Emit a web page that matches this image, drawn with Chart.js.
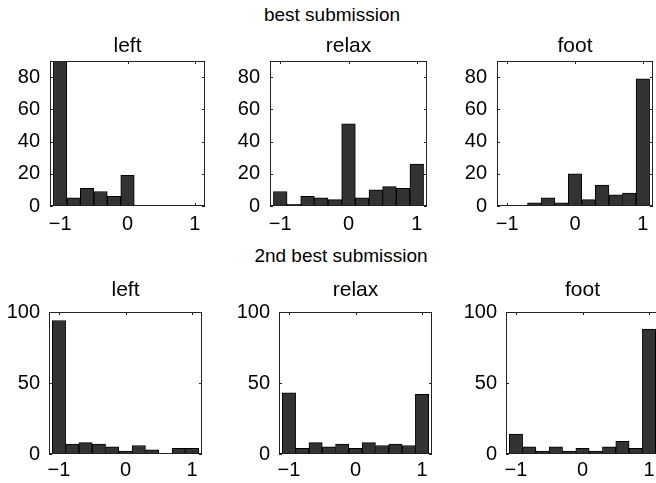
<!DOCTYPE html>
<html>
<head>
<meta charset="utf-8">
<script src="https://cdn.jsdelivr.net/npm/chart.js@4.4.1/dist/chart.umd.min.js"></script>
<style>
html, body { margin: 0; padding: 0; background: #fff; overflow: hidden; width: 656px; height: 483px; position: relative; }
.panel { position: absolute; }
.heading { position: absolute; width: 300px; text-align: center; font: 19px 'Liberation Sans', Arial, sans-serif; line-height: 19px; color: #000; }
</style>
</head>
<body>
<div class="heading" style="left:182px;top:5px">best submission</div>
<div class="heading" style="left:191px;top:246px">2nd best submission</div>
<script>
// histogram bins (centres) and counts
const binCenters = [-1, -0.8, -0.6, -0.4, -0.2, 0, 0.2, 0.4, 0.6, 0.8, 1];
const bestLeft = [90, 5, 11, 9, 6, 19, 0, 0, 0, 0, 0];
const bestRelax = [9, 1, 6, 5, 4, 51, 5, 10, 12, 11, 26];
const bestFoot = [0, 0, 2, 5, 2, 20, 4, 13, 7, 8, 79];
const secondLeft = [94, 7, 8, 7, 5, 2, 6, 3, 0, 4, 4];
const secondRelax = [43, 4, 8, 5, 7, 4, 8, 6, 7, 6, 42];
const secondFoot = [14, 5, 2, 5, 2, 4, 2, 5, 9, 4, 88];
const xTickValues = [-1, 0, 1];
const yTicksBest = [0, 20, 40, 60, 80];
const yTicksSecond = [0, 50, 100];
const panelTitles = ['left', 'relax', 'foot'];

Chart.defaults.font.family = "'Liberation Sans', Arial, sans-serif";
Chart.defaults.color = '#000';

const Y_AXIS_W = 50;
const X_AXIS_H = 36;
const TITLE_PAD_TOP = 4;

// box = plot area in page pixels
const panels = [
  { title: panelTitles[0], values: bestLeft, yTicks: yTicksBest, yMax: 90, box: [50, 61, 155, 145], titleGap: 3, xPad: 6, yPad: 10 },
  { title: panelTitles[1], values: bestRelax, yTicks: yTicksBest, yMax: 90, box: [270, 61, 157, 145], titleGap: 3, xPad: 6, yPad: 10 },
  { title: panelTitles[2], values: bestFoot, yTicks: yTicksBest, yMax: 90, box: [497, 61, 156, 145], titleGap: 3, xPad: 6, yPad: 10 },
  { title: panelTitles[0], values: secondLeft, yTicks: yTicksSecond, yMax: 100, box: [49, 312, 153, 142], titleGap: 10, xPad: 4, yPad: 9 },
  { title: panelTitles[1], values: secondRelax, yTicks: yTicksSecond, yMax: 100, box: [279, 312, 153, 142], titleGap: 10, xPad: 4, yPad: 9 },
  { title: panelTitles[2], values: secondFoot, yTicks: yTicksSecond, yMax: 100, box: [506, 312, 153, 142], titleGap: 10, xPad: 4, yPad: 9 }
];

// matlab style box with small inward ticks
const boxPlugin = {
  id: 'boxTicks',
  afterDatasetsDraw(chart) {
    const { ctx, chartArea: a, scales: { x, y } } = chart;
    ctx.save();
    ctx.strokeStyle = '#222';
    ctx.lineWidth = 1;
    ctx.strokeRect(a.left + 0.5, a.top + 0.5, a.width - 1, a.height - 1);
    ctx.beginPath();
    x.ticks.forEach(t => {
      const px = Math.round(x.getPixelForValue(t.value)) + 0.5;
      ctx.moveTo(px, a.bottom); ctx.lineTo(px, a.bottom - 3);
      ctx.moveTo(px, a.top); ctx.lineTo(px, a.top + 3);
    });
    y.ticks.forEach(t => {
      const py = Math.round(y.getPixelForValue(t.value)) + 0.5;
      ctx.moveTo(a.left, py); ctx.lineTo(a.left + 3, py);
      ctx.moveTo(a.right, py); ctx.lineTo(a.right - 3, py);
    });
    ctx.stroke();
    ctx.restore();
  }
};

function fmt(v) {
  return String(v).replace('-', '\u2212');
}

function makePanel(p) {
  const [bl, bt, bw, bh] = p.box;
  const titleH = TITLE_PAD_TOP + 24 + p.titleGap;
  const div = document.createElement('div');
  div.className = 'panel';
  div.style.left = (bl - Y_AXIS_W) + 'px';
  div.style.top = (bt - titleH) + 'px';
  div.style.width = (Y_AXIS_W + bw + 2) + 'px';
  div.style.height = (titleH + bh + X_AXIS_H) + 'px';
  const canvas = document.createElement('canvas');
  div.appendChild(canvas);
  document.body.appendChild(div);

  new Chart(canvas.getContext('2d'), {
    type: 'bar',
    data: {
      datasets: [{
        data: binCenters.map((x, i) => ({ x: x, y: p.values[i] })),
        backgroundColor: '#333333',
        borderColor: '#000000',
        borderWidth: 1,
        borderSkipped: false,
        barPercentage: 1,
        categoryPercentage: 1
      }]
    },
    options: {
      responsive: true,
      maintainAspectRatio: false,
      animation: false,
      layout: { padding: { left: 0, right: 2, top: 0, bottom: 0 } },
      plugins: {
        legend: { display: false },
        tooltip: { enabled: false },
        title: {
          display: true,
          text: p.title,
          fullSize: false,
          font: { size: 21, weight: 'normal', lineHeight: '24px' },
          padding: { top: TITLE_PAD_TOP, bottom: p.titleGap }
        }
      },
      scales: {
        x: {
          type: 'linear',
          min: -1.15,
          max: 1.15,
          offset: false,
          grid: { display: false, drawTicks: false },
          border: { display: false },
          afterBuildTicks: s => { s.ticks = xTickValues.map(v => ({ value: v })); },
          afterFit: s => { s.height = X_AXIS_H; },
          ticks: { font: { size: 20 }, padding: p.xPad, maxRotation: 0, callback: v => fmt(v) }
        },
        y: {
          min: 0,
          max: p.yMax,
          grid: { display: false, drawTicks: false },
          border: { display: false },
          afterBuildTicks: s => { s.ticks = p.yTicks.map(v => ({ value: v })); },
          afterFit: s => { s.width = Y_AXIS_W; },
          ticks: { font: { size: 20 }, padding: p.yPad, callback: v => fmt(v) }
        }
      }
    },
    plugins: [boxPlugin]
  });
}

panels.forEach(makePanel);
</script>
</body>
</html>
